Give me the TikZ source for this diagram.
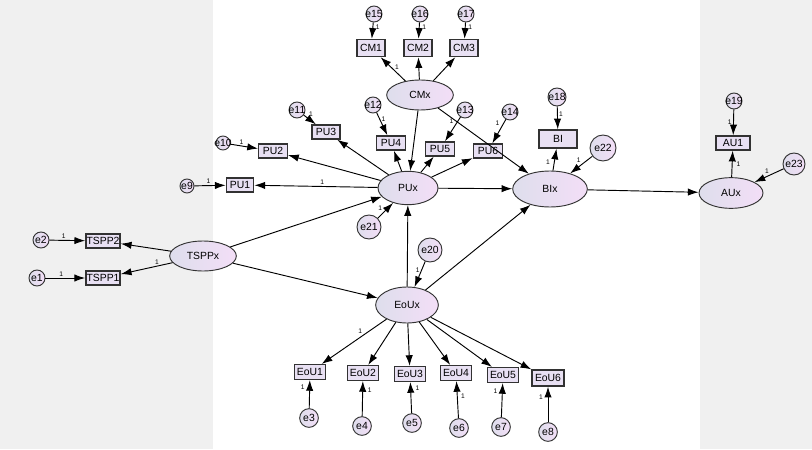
\documentclass[tikz,border=0pt]{standalone}
\usepackage{fontspec}
\setmainfont{Liberation Sans}
\usetikzlibrary{shapes.geometric,arrows.meta}
\definecolor{bggray}{RGB}{240,240,240}
\definecolor{lavl}{RGB}{222,222,236}
\definecolor{lavr}{RGB}{243,222,247}
\definecolor{boxfill}{RGB}{232,224,243}
\definecolor{edgegray}{RGB}{50,50,50}

\begin{document}
\begin{tikzpicture}[x=0.75pt, y=-0.75pt, font=\fontsize{7.8}{9}\selectfont, line width=0.7pt, >={Latex[length=8pt,width=5.5pt]},
    lat/.style={ellipse, draw=edgegray, left color=lavl, right color=lavr, inner sep=0pt},
    obs/.style={rectangle, draw=edgegray, line width=1.1pt, fill=boxfill, inner sep=0.5pt},
    err/.style={circle, draw=edgegray, left color=lavl, right color=lavr, inner sep=0pt, minimum size=12pt},
    one/.style={font=\fontsize{5}{5}\selectfont, inner sep=1pt}]
    \fill[bggray] (0,0) rectangle (213,449);
    \fill[bggray] (700,0) rectangle (812,449);
    \useasboundingbox (0,0) rectangle (812,449);

    \node[lat, minimum width=50pt, minimum height=22.5pt] (CMx) at (420,95) {CMx};
    \node[lat, minimum width=45pt, minimum height=25pt] (PUx) at (408,188) {PUx};
    \node[lat, minimum width=50pt, minimum height=22.5pt] (TSPPx) at (203,256) {TSPPx};
    \node[lat, minimum width=47pt, minimum height=27pt] (EoUx) at (407,305) {EoUx};
    \node[lat, minimum width=56pt, minimum height=27pt] (BIx) at (550,189) {BIx};
    \node[lat, minimum width=48pt, minimum height=23pt] (AUx) at (731,193) {AUx};

    \node[obs, minimum width=21pt, minimum height=12.75pt] (CM1) at (371,48) {CM1};
    \node[obs, minimum width=21pt, minimum height=12.75pt] (CM2) at (418,48) {CM2};
    \node[obs, minimum width=21pt, minimum height=12.75pt] (CM3) at (464,48) {CM3};
    \node[obs, minimum width=20.5pt, minimum height=10.5pt] (PU1) at (240,185) {PU1};
    \node[obs, minimum width=21.5pt, minimum height=10.5pt] (PU2) at (273,151) {PU2};
    \node[obs, minimum width=21pt, minimum height=10.5pt] (PU3) at (326,132) {PU3};
    \node[obs, minimum width=21.5pt, minimum height=10.5pt] (PU4) at (391,143) {PU4};
    \node[obs, minimum width=21.5pt, minimum height=10.5pt] (PU5) at (440,149) {PU5};
    \node[obs, minimum width=22pt, minimum height=10.5pt] (PU6) at (488,151) {PU6};
    \node[obs, minimum width=25pt, minimum height=10.5pt] (TSPP2) at (103,241) {TSPP2};
    \node[obs, minimum width=25pt, minimum height=10.5pt] (TSPP1) at (103,278) {TSPP1};
    \node[obs, minimum width=23pt, minimum height=11pt] (EoU1) at (310,372) {EoU1};
    \node[obs, minimum width=23pt, minimum height=11pt] (EoU2) at (363,373) {EoU2};
    \node[obs, minimum width=23pt, minimum height=11pt] (EoU3) at (410,374) {EoU3};
    \node[obs, minimum width=23pt, minimum height=11pt] (EoU4) at (456,373) {EoU4};
    \node[obs, minimum width=23pt, minimum height=11pt] (EoU5) at (503,375) {EoU5};
    \node[obs, minimum width=24pt, minimum height=12pt] (EoU6) at (548,378) {EoU6};
    \node[obs, minimum width=28.5pt, minimum height=13.5pt] (BI) at (558,139) {BI};
    \node[obs, minimum width=25.5pt, minimum height=10.5pt] (AU1) at (733,143) {AU1};

    \node[err, label=center:e15] (e15) at (374,14) {};
    \node[err, label=center:e16] (e16) at (420,14) {};
    \node[err, label=center:e17] (e17) at (466,14) {};
    \node[err, minimum size=10.5pt, label=center:e9] (e9) at (187,186) {};
    \node[err, minimum size=10.5pt, label=center:e10] (e10) at (223,143) {};
    \node[err, label=center:e11] (e11) at (297,110) {};
    \node[err, label=center:e12] (e12) at (373,105) {};
    \node[err, label=center:e13] (e13) at (465,110) {};
    \node[err, label=center:e14] (e14) at (510,112) {};
    \node[err, minimum size=18pt, label=center:e21] (e21) at (369,227) {};
    \node[err, label=center:e2] (e2) at (41,240) {};
    \node[err, label=center:e1] (e1) at (37,278) {};
    \node[err, minimum size=18pt, label=center:e20] (e20) at (430,250) {};
    \node[err, minimum size=14pt, label=center:e3] (e3) at (309,418) {};
    \node[err, minimum size=14pt, label=center:e4] (e4) at (362,426) {};
    \node[err, minimum size=14pt, label=center:e5] (e5) at (412,423) {};
    \node[err, minimum size=14pt, label=center:e6] (e6) at (459,428) {};
    \node[err, minimum size=14pt, label=center:e7] (e7) at (501,427) {};
    \node[err, minimum size=14pt, label=center:e8] (e8) at (548,432) {};
    \node[err, minimum size=13.5pt, label=center:e18] (e18) at (557,97) {};
    \node[err, minimum size=19.5pt, label=center:e22] (e22) at (603,148) {};
    \node[err, label=center:e19] (e19) at (734,101) {};
    \node[err, minimum size=16.5pt, label=center:e23] (e23) at (794,164) {};

    \draw[->] (CMx) -- (CM1) node[one, pos=0.6, right=2pt] {1};
    \draw[->] (CMx) -- (CM2);
    \draw[->] (CMx) -- (CM3);
    \draw[->] (CMx) -- (PUx);
    \draw[->] (CMx) -- (BIx);
    \draw[->] (e15) -- (CM1) node[one, pos=0.3, right=1pt] {1};
    \draw[->] (e16) -- (CM2) node[one, pos=0.3, right=1pt] {1};
    \draw[->] (e17) -- (CM3) node[one, pos=0.3, right=1pt] {1};

    \draw[->] (PUx) -- (PU1) node[one, pos=0.45, above] {1};
    \draw[->] (PUx) -- (PU2);
    \draw[->] (PUx) -- (PU3);
    \draw[->] (PUx) -- (PU4);
    \draw[->] (PUx) -- (PU5);
    \draw[->] (PUx) -- (PU6);
    \draw[->] (PUx) -- (BIx);
    \draw[->] (e9) -- (PU1) node[one, pos=0.45, above] {1};
    \draw[->] (e10) -- (PU2) node[one, pos=0.4, above] {1};
    \draw[->] (e11) -- (PU3) node[one, pos=0.3, above right] {1};
    \draw[->] (e12) -- (PU4) node[one, pos=0.3, right] {1};
    \draw[->] (e13) -- (PU5) node[one, pos=0.35, above left] {1};
    \draw[->] (e14) -- (PU6) node[one, pos=0.35, above left] {1};
    \draw[->] (e21) -- (PUx) node[one, pos=0.4, above left] {1};

    \draw[->] (TSPPx) -- (PUx);
    \draw[->] (TSPPx) -- (EoUx);
    \draw[->] (TSPPx) -- (TSPP2);
    \draw[->] (TSPPx) -- (TSPP1) node[one, pos=0.3, above] {1};
    \draw[->] (e2) -- (TSPP2) node[one, pos=0.4, above] {1};
    \draw[->] (e1) -- (TSPP1) node[one, pos=0.4, above] {1};

    \draw[->] (EoUx) -- (PUx);
    \draw[->] (EoUx) -- (BIx);
    \draw[->] (e20) -- (EoUx) node[one, pos=0.35, left] {1};
    \draw[->] (EoUx) -- (EoU1) node[one, pos=0.35, above left] {1};
    \draw[->] (EoUx) -- (EoU2);
    \draw[->] (EoUx) -- (EoU3);
    \draw[->] (EoUx) -- (EoU4);
    \draw[->] (EoUx) -- (EoU5);
    \draw[->] (EoUx) -- (EoU6);
    \draw[->] (e3) -- (EoU1) node[one, pos=0.75, left=2.5pt] {1};
    \draw[->] (e4) -- (EoU2) node[one, pos=0.75, right=2.5pt] {1};
    \draw[->] (e5) -- (EoU3) node[one, pos=0.8, right=2.5pt] {1};
    \draw[->] (e6) -- (EoU4) node[one, pos=0.6, right=1.5pt] {1};
    \draw[->] (e7) -- (EoU5) node[one, pos=0.75, left=2.5pt] {1};
    \draw[->] (e8) -- (EoU6) node[one, pos=0.7, left=2.5pt] {1};

    \draw[->] (BIx) -- (BI) node[one, pos=0.4, left=2pt] {1};
    \draw[->] (e18) -- (BI) node[one, pos=0.35, right] {1};
    \draw[->] (e22) -- (BIx) node[one, pos=0.45, above left] {1};
    \draw[->] (BIx) -- (AUx);
    \draw[->] (AUx) -- (AU1) node[one, pos=0.5, right=2pt] {1};
    \draw[->] (e19) -- (AU1) node[one, pos=0.5, left] {1};
    \draw[->] (e23) -- (AUx) node[one, pos=0.45, above left] {1};
\end{tikzpicture}
\end{document}
